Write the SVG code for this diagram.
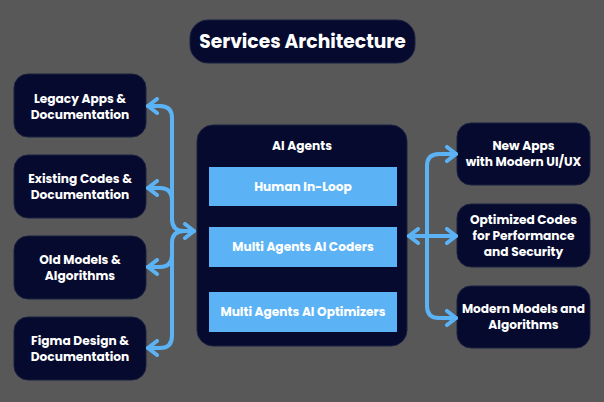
<svg xmlns="http://www.w3.org/2000/svg" width="604" height="402" viewBox="0 0 604 402">
<style>
.box{fill:#050a2e;stroke:#1b2040;stroke-width:1}
.inner{fill:#5bb3f5}
.t{font-family:Poppins,Inter,"Liberation Sans",sans-serif;font-weight:700;fill:#ffffff;text-anchor:middle;dominant-baseline:central}
.n{font-size:12.2px}
.title{font-size:18.7px}
.c{fill:none;stroke:#5bb3f5;stroke-width:4;stroke-linecap:round;stroke-linejoin:round}
</style>
<defs>
<marker id="ah" markerUnits="userSpaceOnUse" viewBox="0 0 14 18" refX="12" refY="9" markerWidth="14" markerHeight="18" orient="auto-start-reverse">
<path d="M3 2 L12 9 L3 16" fill="none" stroke="#5bb3f5" stroke-width="4" stroke-linecap="round" stroke-linejoin="round"/>
</marker>
</defs>
<rect width="604" height="402" fill="#585858"/>
<g id="title">
<rect class="box" x="190" y="20" width="225" height="43" rx="18"/>
<text class="t title" x="302.5" y="41">Services Architecture</text>
</g>
<g id="legacy">
<rect class="box" x="14" y="74" width="132" height="63" rx="14"/>
<text class="t n" x="80" y="98">Legacy Apps &amp;</text>
<text class="t n" x="80" y="114">Documentation</text>
</g>
<g id="existing">
<rect class="box" x="14" y="155" width="132" height="63" rx="14"/>
<text class="t n" x="80" y="178">Existing Codes &amp;</text>
<text class="t n" x="80" y="194">Documentation</text>
</g>
<g id="oldmodels">
<rect class="box" x="14" y="236" width="132" height="63" rx="14"/>
<text class="t n" x="80" y="259">Old Models &amp;</text>
<text class="t n" x="80" y="275">Algorithms</text>
</g>
<g id="figma">
<rect class="box" x="14" y="317" width="132" height="63" rx="14"/>
<text class="t n" x="80" y="340">Figma Design &amp;</text>
<text class="t n" x="80" y="356">Documentation</text>
</g>
<g id="agents">
<rect class="box" x="197" y="125" width="210" height="221" rx="16"/>
<text class="t n" x="302" y="145">AI Agents</text>
<rect class="inner" x="209" y="167" width="188" height="39"/>
<text class="t n" x="303" y="186">Human In-Loop</text>
<rect class="inner" x="209" y="227" width="188" height="40"/>
<text class="t n" x="303" y="246">Multi Agents AI Coders</text>
<rect class="inner" x="209" y="292" width="188" height="40"/>
<text class="t n" x="303" y="311">Multi Agents AI Optimizers</text>
</g>
<g id="newapps">
<rect class="box" x="457" y="123" width="133" height="62" rx="14"/>
<text class="t n" x="523.5" y="145">New Apps</text>
<text class="t n" x="523.5" y="161">with Modern UI/UX</text>
</g>
<g id="optimized">
<rect class="box" x="457" y="204" width="133" height="63" rx="14"/>
<text class="t n" x="523.5" y="219">Optimized Codes</text>
<text class="t n" x="523.5" y="235">for Performance</text>
<text class="t n" x="523.5" y="251">and Security</text>
</g>
<g id="modern">
<rect class="box" x="457" y="286" width="133" height="62" rx="14"/>
<text class="t n" x="523.5" y="308">Modern Models and</text>
<text class="t n" x="523.5" y="324">Algorithms</text>
</g>
<g id="connectors">
<path class="c" d="M148 106 H160 Q172 106 172 118 V219 Q172 231 184 231 H194" marker-start="url(#ah)" marker-end="url(#ah)"/>
<path class="c" d="M172 201 Q172 188 160 188 H148" marker-end="url(#ah)"/>
<path class="c" d="M184 231 Q172 231 172 243 V336 Q172 348 160 348 H148" marker-end="url(#ah)"/>
<path class="c" d="M172 254 Q172 267 160 267 H148" marker-end="url(#ah)"/>
<path class="c" d="M409 236 H456" marker-start="url(#ah)" marker-end="url(#ah)"/>
<path class="c" d="M427 236 V166 Q427 154 439 154 H456" marker-end="url(#ah)"/>
<path class="c" d="M427 236 V306 Q427 318 439 318 H456" marker-end="url(#ah)"/>
</g>
</svg>
